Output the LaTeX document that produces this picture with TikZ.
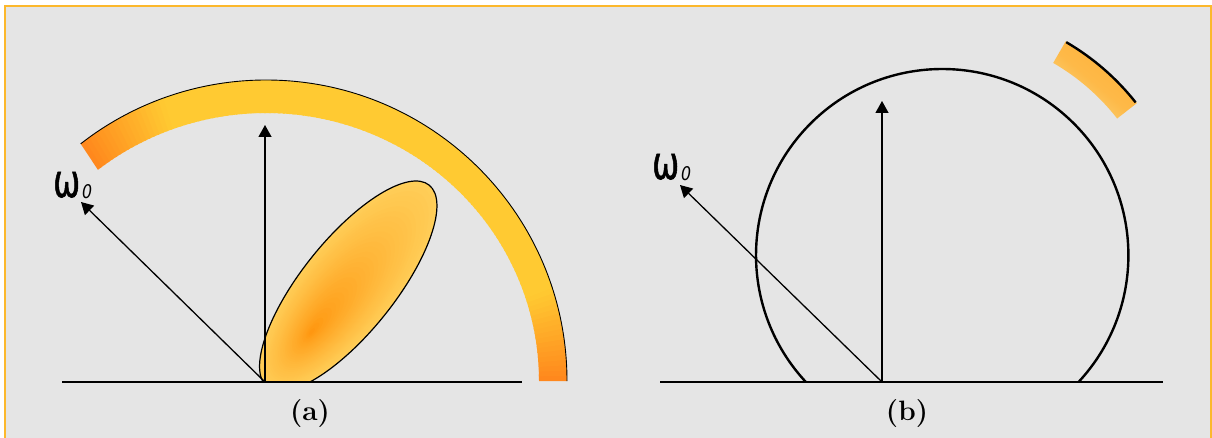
\documentclass[tikz,border=0pt]{standalone}
\usepackage{fontspec}
\newfontfamily\omegafont[FakeBold=1.5]{DejaVu Sans}
\newfontfamily\subfont{DejaVu Sans}
\usetikzlibrary{arrows.meta}
\definecolor{bg}{RGB}{229,229,229}
\definecolor{frameor}{RGB}{252,184,44}
\definecolor{bandY}{RGB}{255,202,50}
\definecolor{bandO}{RGB}{255,135,28}
\definecolor{lobeY}{RGB}{255,206,88}
\definecolor{lobeO}{RGB}{255,148,12}
\definecolor{capO}{RGB}{255,176,55}
\definecolor{capY}{RGB}{248,222,140}
\newcommand{\omlabel}{\resizebox{27pt}{25pt}{\omegafont ω}\hspace{2pt}\raisebox{-1.5pt}{\resizebox{10pt}{14pt}{\subfont\itshape 0}}}
\begin{document}
\begin{tikzpicture}[x=1pt,y=1pt,
  vec/.style={line width=1.3pt, -{Triangle[length=12pt,width=13pt]}},
  ground/.style={line width=1.3pt},
  lab/.style={font=\fontsize{28}{32}\selectfont\bfseries, inner sep=0pt},
  omlab/.style={inner sep=0pt, anchor=base west}]
\useasboundingbox (0,0) rectangle (1212,437);
\fill[white] (0,0) rectangle (1212,437);
\draw[frameor, line width=2pt, fill=bg] (5,-10) rectangle (1211,431);

% ---------- part (a) ----------
\coordinate (Oa) at (265,55);
\coordinate (Ca) at (266,56);
\coordinate (Va) at (265,312);
\coordinate (Wa) at (81,235);
\coordinate (La) at (62,55);
\coordinate (Ra) at (522,55);

% band
\foreach \i in {0,...,127} {
  \pgfmathsetmacro\d{min(\i+0.5,127.5-\i)}
  \pgfmathtruncatemacro\t{min(100*\d/18,100)}
  \pgfmathsetmacro\e{min(\i+1.4,128)}
  \colorlet{segc}{bandY!\t!bandO}
  \fill[segc, shift={(Ca)}] (\i:301) arc[start angle=\i, end angle=\e, radius=301]
     -- (\e:273 and 268) arc[start angle=\e, end angle=\i, x radius=273, y radius=268] -- cycle;
}
\draw[line width=0.9pt] ([shift={(Ca)}]0:301) arc[start angle=0, end angle=128, radius=301];

% lobe
\begin{scope}
  \clip (200,55) rectangle (470,270);
  \begin{scope}[shift={(348.25,150.9)}, rotate=51.3]
    \foreach \k in {30,29,...,1} {
      \pgfmathsetmacro\s{\k/30}
      \pgfmathtruncatemacro\p{100*\s^0.8}
      \colorlet{lc}{lobeY!\p!lobeO}
      \fill[lc] ({-60+60*\s},0) ellipse [x radius={129.4*\s}, y radius={46.5*\s}];
    }
    \draw[line width=1.2pt] (0,0) ellipse [x radius=129.4, y radius=46.5];
  \end{scope}
\end{scope}

\draw[vec] (Oa) -- (Va);
\draw[vec] (Oa) -- (Wa);
\draw[ground] (La) -- (Ra);
\node[omlab] (wa) at (53,240) {\omlabel};
\node[lab, anchor=base] (capa) at (310,17) {(a)};

% ---------- part (b) ----------
\coordinate (Ob) at (882,55);
\coordinate (Cb) at (942.2,181.8);
\coordinate (Vb) at (882,336);
\coordinate (Wb) at (680,252);
\coordinate (Lb) at (660,55);
\coordinate (Rb) at (1163,55);

\begin{scope}
  \clip ([shift={(Cb)}]38:222) arc[start angle=38, end angle=60, radius=222]
     -- ([shift={(Cb)}]60:247) arc[start angle=60, end angle=38, radius=247] -- cycle;
  \shade[bottom color=capY, top color=capO, middle color=capO!80!capY, shading angle=-40]
     (1045,310) rectangle (1142,400);
\end{scope}
\draw[line width=2.4pt] ([shift={(Cb)}]38.3:246.5) arc[start angle=38.3, end angle=59.8, radius=246.5];

\draw[line width=2.4pt] ([shift={(Cb)}]-42.9:186.2) arc[start angle=-42.9, end angle=222.9, radius=186.2];
\draw[vec] (Ob) -- (Vb);
\draw[vec] (Ob) -- (Wb);
\draw[ground] (Lb) -- (Rb);
\node[omlab] (wb) at (652,258) {\omlabel};
\node[lab, anchor=base] (capb) at (907,17) {(b)};
\end{tikzpicture}
\end{document}
